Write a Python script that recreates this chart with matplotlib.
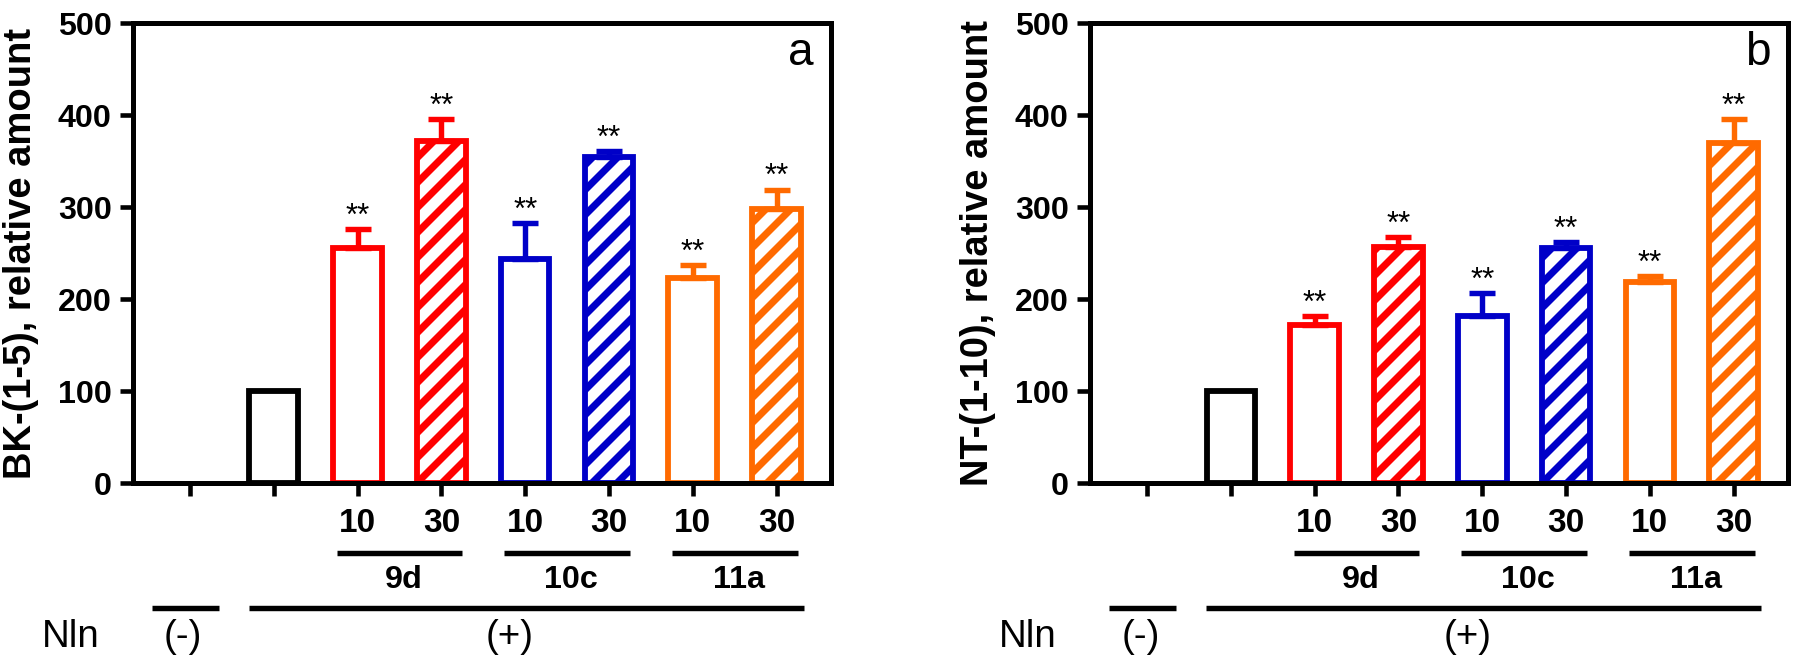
import numpy as np
import matplotlib
matplotlib.use("Agg")
import matplotlib.pyplot as plt
from matplotlib.transforms import blended_transform_factory

#%% Data
dose_labels = ["", "", "10", "30", "10", "30", "10", "30"]
compounds = ["9d", "10c", "11a"]
bar_colors = ["black", "#ff0000", "#ff0000", "#0000c8", "#0000c8", "#ff6a00", "#ff6a00"]
hatched = [False, False, True, False, True, False, True]
stars = ["", "**", "**", "**", "**", "**", "**"]

# panel a: BK-(1-5)
bk_mean = [100, 255, 372, 243, 354, 223, 298]
bk_err = [0, 21, 24, 40, 7, 14, 21]
# panel b: NT-(1-10)
nt_mean = [100, 172, 257, 181, 255, 218, 370]
nt_err = [0, 10, 10, 26, 7, 7, 26]

ylabels = ["BK-(1-5), relative amount", "NT-(1-10), relative amount"]
panel_tags = ["a", "b"]

#%% Style
plt.rcParams['font.family'] = ['Liberation Sans', 'DejaVu Sans']
plt.rcParams['hatch.linewidth'] = 3.4

fig = plt.figure(figsize=(12, 4.46), dpi=150)
ax_a = fig.add_axes([0.0739, 0.278, 0.3878, 0.6876])
ax_b = fig.add_axes([0.6056, 0.278, 0.3878, 0.6876])


def draw_panel(ax, means, errs, ylabel, tag):
    x = np.arange(1, 8)
    for i in range(len(means)):
        ax.bar(x[i], means[i], width=0.58, facecolor="white",
               edgecolor=bar_colors[i], linewidth=2.8,
               hatch="//" if hatched[i] else None, zorder=2)
        if errs[i] > 0:
            ax.errorbar(x[i], means[i], yerr=[[0], [errs[i]]], fmt="none",
                        ecolor=bar_colors[i], elinewidth=2.6, capsize=6.2,
                        capthick=2.6, zorder=3)
        if stars[i]:
            ax.annotate(stars[i], (x[i], means[i] + errs[i]), xytext=(0, 2),
                        textcoords="offset points", ha="center", va="baseline",
                        fontsize=15)

    ax.set_xlim(-0.68, 7.65)
    ax.set_ylim(0, 500)
    ax.set_yticks(range(0, 501, 100))
    ax.set_xticks(range(8))
    ax.set_xticklabels([])
    for lab in ax.get_yticklabels():
        lab.set_fontweight("bold")
    ax.tick_params(axis="y", direction="out", length=6.2, width=2.2, labelsize=15.5, pad=4)
    ax.tick_params(axis="x", direction="out", length=6.2, width=2.2)
    for sp in ax.spines.values():
        sp.set_linewidth(2.4)

    ax.set_ylabel(ylabel, fontsize=18.3, fontweight="bold", va="center")
    ax.yaxis.set_label_coords(-0.1605, 0.5)
    ax.text(0.957, 0.935, tag, transform=ax.transAxes, ha="center", va="center",
            fontsize=22)

    # category annotations below the axis
    tr = blended_transform_factory(ax.transData, ax.transAxes)
    for i, lab in enumerate(dose_labels):
        if lab:
            ax.text(i, -0.087, lab, transform=tr, ha="center", va="center",
                    fontsize=16, fontweight="bold")
    for k, name in enumerate(compounds):
        i0 = 2 + 2 * k
        ax.plot([i0 - 0.25, i0 + 1.25], [-0.152, -0.152], transform=tr,
                color="black", lw=2.6, clip_on=False, solid_capstyle="butt")
        ax.text(i0 + 0.55, -0.211, name, transform=tr, ha="center",
                va="center", fontsize=15.5, fontweight="bold")
    ax.plot([-0.45, 0.35], [-0.272, -0.272], transform=tr, color="black",
            lw=2.6, clip_on=False, solid_capstyle="butt")
    ax.plot([0.7, 7.33], [-0.272, -0.272], transform=tr, color="black",
            lw=2.6, clip_on=False, solid_capstyle="butt")
    ax.text(-1.42, -0.335, "Nln", transform=tr, ha="center", va="center", fontsize=18.5)
    ax.text(-0.08, -0.335, "(-)", transform=tr, ha="center", va="center", fontsize=18.5)
    ax.text(3.82, -0.335, "(+)", transform=tr, ha="center", va="center", fontsize=18.5)


draw_panel(ax_a, bk_mean, bk_err, ylabels[0], panel_tags[0])
draw_panel(ax_b, nt_mean, nt_err, ylabels[1], panel_tags[1])

fig.savefig("out.png", dpi=150)
